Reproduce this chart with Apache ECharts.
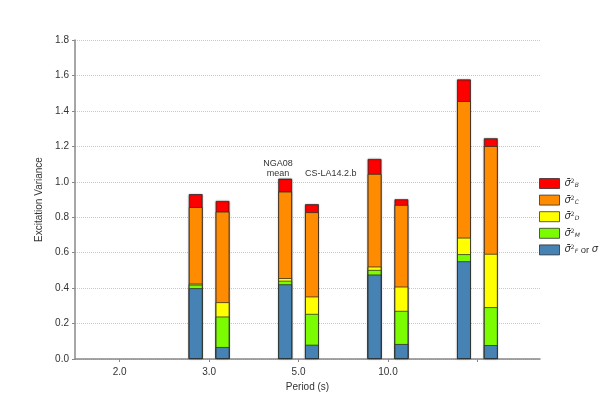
<!DOCTYPE html>
<html><head><meta charset="utf-8">
<script src="https://cdn.jsdelivr.net/npm/echarts@6/dist/echarts.min.js"></script>
<style>html,body{margin:0;padding:0;background:#fff}#c{width:600px;height:400px}</style>
</head><body><div id="c"></div>
<script>
// ---- data ----
const periodLabels = ['2.0', '3.0', '5.0', '10.0'];
const groupX = [1, 2, 3, 4];            // positions of the bar pairs (0 = "2.0" has no bars)
// NGA08 mean (left bar of each pair), bottom -> top components
const ngaF = [0.400, 0.422, 0.477, 0.552];
const ngaM = [0.020, 0.020, 0.026, 0.040];
const ngaD = [0.006, 0.015, 0.019, 0.093];
const ngaC = [0.432, 0.488, 0.523, 0.771];
const ngaB = [0.073, 0.073, 0.084, 0.122];
// CS-LA14.2.b (right bar of each pair)
const csF = [0.068, 0.081, 0.085, 0.079];
const csM = [0.172, 0.174, 0.187, 0.214];
const csD = [0.081, 0.098, 0.137, 0.301];
const csC = [0.511, 0.476, 0.461, 0.608];
const csB = [0.060, 0.045, 0.032, 0.044];
const componentKeys = ['B', 'C', 'D', 'M', 'F'];   // legend order (top -> bottom)

// ---- styling ----
const colors = { B: '#ff0000', C: '#ff8c00', D: '#ffff00', M: '#7cfc00', F: '#4682b4' };
const pairOffset = 0.15;
const FONT = "'Liberation Sans', Arial, sans-serif";

// stack manually: cumulative tops, bottom order F, M, D, C, B
function cumulate(parts) {
  const out = {};
  let run = parts.F.map(() => 0);
  ['F', 'M', 'D', 'C', 'B'].forEach(k => {
    run = run.map((v, i) => v + parts[k][i]);
    out[k] = run.slice();
  });
  return out;
}
const ngaCum = cumulate({ F: ngaF, M: ngaM, D: ngaD, C: ngaC, B: ngaB });
const csCum = cumulate({ F: csF, M: csM, D: csD, C: csC, B: csB });

const series = [];
[[ngaCum, -pairOffset], [csCum, pairOffset]].forEach(([cum, off]) => {
  // tallest first, so lower segments are drawn over it
  ['B', 'C', 'D', 'M', 'F'].forEach(k => {
    series.push({
      name: 's' + k,
      type: 'bar',
      barWidth: 14,
      barGap: '-100%',
      data: groupX.map((x, i) => [x + off, cum[k][i]]),
      itemStyle: {
        color: colors[k],
        borderColor: 'rgba(40,40,40,0.75)',
        borderWidth: 1,
        shadowColor: k === 'B' ? 'rgba(0,0,0,0.35)' : 'transparent',
        shadowBlur: k === 'B' ? 2 : 0
      },
      emphasis: { disabled: true },
      animation: false
    });
  });
});

const chart = echarts.init(document.getElementById('c'));
chart.setOption({
  animation: false,
  textStyle: { fontFamily: FONT },
  grid: { left: 75, right: 60, top: 40, bottom: 41, containLabel: false },
  legend: {
    data: componentKeys.map(k => 's' + k),
    orient: 'vertical',
    left: 539,
    top: 178,
    padding: 0,
    itemWidth: 20,
    itemHeight: 10,
    itemGap: 5.6,
    icon: 'rect',
    itemStyle: { shadowBlur: 0, borderColor: 'rgba(40,40,40,0.75)', borderWidth: 1 },
    selectedMode: false,
    formatter: name => {
      const k = name.slice(1);
      const base = '{s|σ\u0304}{sup|2}{sub|' + k + '}';
      return k === 'F' ? base + '{t| or }{s|σ}' : base;
    },
    textStyle: {
      color: '#333',
      rich: {
        s: { fontFamily: 'DejaVu Sans', fontStyle: 'italic', fontSize: 10, color: '#333', lineHeight: 10 },
        sup: { fontFamily: 'DejaVu Sans', fontSize: 6, verticalAlign: 'top', color: '#333', lineHeight: 10 },
        sub: { fontFamily: 'DejaVu Sans', fontStyle: 'italic', fontSize: 6, verticalAlign: 'bottom', color: '#333', lineHeight: 10 },
        t: { fontFamily: FONT, fontSize: 9.5, color: '#333', lineHeight: 10 }
      }
    }
  },
  xAxis: {
    type: 'value',
    min: -0.5,
    max: 4.7,
    splitLine: { show: false },
    axisLine: { show: true, onZero: false, lineStyle: { color: '#888', width: 1.5 } },
    axisTick: { show: true, customValues: [0, 1, 2, 3, 4], length: 3, lineStyle: { color: '#888' } },
    axisLabel: {
      customValues: [0, 1, 2, 3],
      formatter: v => periodLabels[Math.round(v)] || '',
      fontSize: 10, color: '#333', margin: 8
    },
    name: 'Period (s)',
    nameLocation: 'middle',
    nameGap: 22,
    nameTextStyle: { fontSize: 10, color: '#333' }
  },
  yAxis: {
    type: 'value',
    min: 0,
    max: 1.8,
    interval: 0.2,
    axisLine: { show: true, onZero: false, lineStyle: { color: '#888', width: 1.5 } },
    axisTick: { show: true, length: 3, lineStyle: { color: '#888' } },
    axisLabel: { formatter: v => v.toFixed(1), fontSize: 10, color: '#333', margin: 6 },
    splitLine: { show: true, lineStyle: { type: 'dotted', color: '#c8c8c8', width: 1 } },
    name: 'Excitation Variance',
    nameLocation: 'middle',
    nameGap: 22,
    nameRotate: 90,
    nameTextStyle: { fontSize: 10, color: '#333' }
  },
  series: series
});

// annotations anchored in data coordinates
const pNga = chart.convertToPixel({ gridIndex: 0 }, [1.77, 1.02]);
const pCs = chart.convertToPixel({ gridIndex: 0 }, [2.072, 1.02]);
chart.setOption({
  graphic: [
    { type: 'text', x: pNga[0], y: pNga[1], silent: true,
      style: { text: 'NGA08\nmean', fontSize: 9, fontFamily: FONT, fill: '#333', align: 'center', verticalAlign: 'bottom', lineHeight: 10 } },
    { type: 'text', x: pCs[0], y: pCs[1], silent: true,
      style: { text: 'CS-LA14.2.b', fontSize: 9, fontFamily: FONT, fill: '#333', align: 'left', verticalAlign: 'bottom', lineHeight: 10 } }
  ]
});
</script>
</body></html>
